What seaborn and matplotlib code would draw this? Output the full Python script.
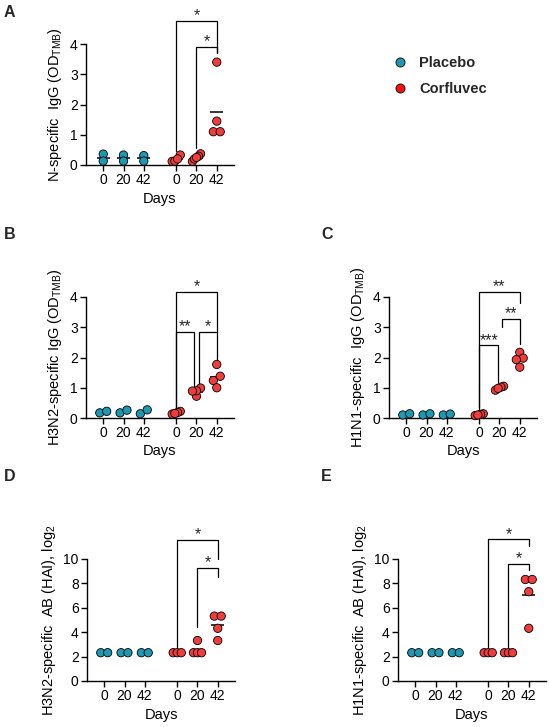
import numpy as np
import pandas as pd
import matplotlib
matplotlib.use('Agg')
import matplotlib.pyplot as plt
from matplotlib.lines import Line2D
import seaborn as sns

# Data
groups = ['Placebo', 'Corfluvec']
days = ['0', '20', '42']
positions = [0, 1, 2, 3.6, 4.6, 5.6]
colors = {'Placebo': '#1c98b1', 'Corfluvec': '#ef3d3d'}

# panel A: N-specific IgG
a_placebo = [[0.36, 0.13], [0.33, 0.13], [0.31, 0.13]]
a_corfluvec = [[0.12, 0.13, 0.33, 0.2], [0.37, 0.29, 0.12, 0.2, 0.25], [3.4, 1.45, 1.1, 1.1]]

# panel B: H3N2-specific IgG
b_placebo = [[0.17, 0.22], [0.17, 0.26], [0.14, 0.27]]
b_corfluvec = [[0.13, 0.22, 0.18, 0.15], [0.72, 0.99, 0.9, 0.89], [1.77, 1.38, 1.24, 1.0]]

# panel C: H1N1-specific IgG
c_placebo = [[0.1, 0.14], [0.1, 0.14], [0.1, 0.13]]
c_corfluvec = [[0.08, 0.14, 0.12, 0.1], [0.92, 1.05, 1.02, 0.98], [2.17, 1.98, 1.93, 1.68]]

# panel D: H3N2 HAI, log2
d_placebo = [[2.32, 2.32], [2.32, 2.32], [2.32, 2.32]]
d_corfluvec = [[2.32, 2.32, 2.32], [2.32, 2.32, 2.32, 3.32], [5.32, 5.32, 4.32, 3.32]]

# panel E: H1N1 HAI, log2
e_placebo = [[2.32, 2.32], [2.32, 2.32], [2.32, 2.32]]
e_corfluvec = [[2.32, 2.32, 2.32], [2.32, 2.32, 2.32], [8.32, 8.32, 7.32, 4.32]]

# significance brackets: (left idx, right idx, bar y, left end y, right end y, label)
a_brackets = [(3, 5, 4.76, 0.45, 3.7, '*'), (4, 5, 3.9, 0.55, 3.7, '*')]
b_brackets = [(3, 5, 4.17, 0.3, 2.85, '*'), (3, 3.88, 2.85, 0.3, 1.05, '**'),
              (4.12, 5, 2.85, 1.05, 1.9, '*')]
c_brackets = [(3, 5, 4.17, 0.3, 3.8, '**'), (4.1, 5, 3.27, 3.0, 2.45, '**'),
              (3, 3.95, 2.4, 0.35, 1.2, '***')]
d_brackets = [(3, 5, 11.56, 2.8, 10.0, '*'), (4, 5, 9.26, 4.4, 8.5, '*')]
e_brackets = [(3, 5, 11.6, 2.8, 11.1, '*'), (4, 5, 9.6, 2.8, 9.1, '*')]

sns.set_theme(style='ticks')
plt.rcParams['font.family'] = ['Liberation Sans', 'DejaVu Sans']
plt.rcParams['mathtext.fontset'] = 'custom'
plt.rcParams['mathtext.rm'] = 'Liberation Sans'
plt.rcParams['mathtext.it'] = 'Liberation Sans:italic'
plt.rcParams['mathtext.bf'] = 'Liberation Sans:bold'


def cat_x(idx):
    # category index (may carry a small shift) -> x position
    base = int(idx)
    return positions[base] + (idx - base)


def spread_offsets(values, thr):
    # Prism-like scatter: points with close values are spread sideways
    values = np.asarray(values, dtype=float)
    order = np.argsort(values, kind='stable')
    offs = np.zeros(len(values))
    clusters, current = [], [order[0]]
    for a, b in zip(order[:-1], order[1:]):
        if values[b] - values[a] < thr:
            current.append(b)
        else:
            clusters.append(current)
            current = [b]
    clusters.append(current)
    for cl in clusters:
        n = len(cl)
        if n > 1:
            w = 0.17 if n == 2 else 0.2
            offs[cl] = np.linspace(-w, w, n)
    return offs


def draw_panel(ax, placebo, corfluvec, ylabel, ymax, ystep, brackets):
    rows = []
    for gi, (name, vals) in enumerate(zip(groups, [placebo, corfluvec])):
        for di, day_vals in enumerate(vals):
            offs = spread_offsets(day_vals, ymax * 0.04)
            for v, o in zip(day_vals, offs):
                rows.append({'group': name, 'pos': positions[gi * 3 + di],
                             'x': positions[gi * 3 + di] + o, 'value': v})
    df = pd.DataFrame(rows)

    means = df.groupby(['group', 'pos'])['value'].mean().reset_index()
    ax.hlines(means['value'], means['pos'] - 0.33, means['pos'] + 0.33,
              color='black', lw=1.1, zorder=1, clip_on=False)

    sns.scatterplot(data=df, x='x', y='value', hue='group', hue_order=groups,
                    palette=colors, s=36, edgecolor='black', linewidth=0.6,
                    legend=False, ax=ax, clip_on=False, zorder=3)

    for left, right, y_bar, y_l, y_r, label in brackets:
        xl, xr = cat_x(left), cat_x(right)
        ax.plot([xl, xl, xr, xr], [y_l, y_bar, y_bar, y_r], color='black',
                lw=0.9, clip_on=False)
        ax.annotate(label, ((xl + xr) / 2, y_bar), xytext=(0, 0.5),
                    textcoords='offset points', ha='center', va='baseline',
                    fontsize=11.5, annotation_clip=False)

    ax.set_xlim(-0.85, 6.45)
    ax.set_ylim(0, ymax)
    ax.set_yticks(np.arange(0, ymax + 0.01, ystep))
    ax.set_xticks(positions)
    ax.set_xticklabels(days * 2)
    ax.set_xlabel('Days', fontsize=10.5, color='black', labelpad=3)
    ax.set_ylabel(ylabel, fontsize=10.5, color='black')
    sns.despine(ax=ax)
    for side in ['left', 'bottom']:
        ax.spines[side].set_linewidth(1.0)
        ax.spines[side].set_color('black')
    ax.tick_params(length=4, width=1.0, labelsize=10, colors='black', pad=2)


fig = plt.figure(figsize=(5.5, 7.27), dpi=100)
W, H = 550, 727

ax_a = fig.add_axes([86 / W, 1 - 165 / H, 148 / W, 121 / H])
ax_b = fig.add_axes([86 / W, 1 - 418 / H, 148 / W, 121 / H])
ax_c = fig.add_axes([389 / W, 1 - 418 / H, 148 / W, 121 / H])
ax_d = fig.add_axes([87 / W, 1 - 681 / H, 148 / W, 122 / H])
ax_e = fig.add_axes([398 / W, 1 - 681 / H, 148 / W, 122 / H])

draw_panel(ax_a, a_placebo, a_corfluvec, 'N-specific  IgG (OD$_{\\mathrm{TMB}}$)', 4, 1, a_brackets)
draw_panel(ax_b, b_placebo, b_corfluvec, 'H3N2-specific IgG (OD$_{\\mathrm{TMB}}$)', 4, 1, b_brackets)
draw_panel(ax_c, c_placebo, c_corfluvec, 'H1N1-specific  IgG (OD$_{\\mathrm{TMB}}$)', 4, 1, c_brackets)
draw_panel(ax_d, d_placebo, d_corfluvec, 'H3N2-specific  AB (HAI), log$_{\\mathrm{2}}$', 10, 2, d_brackets)
draw_panel(ax_e, e_placebo, e_corfluvec, 'H1N1-specific  AB (HAI), log$_{\\mathrm{2}}$', 10, 2, e_brackets)

# panel letters
for letter, x, y in [('A', 4, 17), ('B', 4, 239), ('C', 321, 239), ('D', 4, 481), ('E', 321, 481)]:
    fig.text(x / W, 1 - y / H, letter, fontsize=11.5, fontweight='bold', va='baseline')

# legend
handles = [Line2D([], [], marker='o', ls='', markerfacecolor=colors[g] if g == 'Placebo' else '#f80f0f',
                  markeredgecolor='black', markeredgewidth=0.6, markersize=6.5) for g in groups]
fig.legend(handles, groups, loc='upper left', bbox_to_anchor=(393 / W, 1 - 56 / H),
           frameon=False, prop={'weight': 'bold', 'size': 10.5}, handlelength=1.0,
           handletextpad=0.8, labelspacing=0.8, borderpad=0, borderaxespad=0)

fig.savefig('out.png', dpi=100, facecolor='white')
